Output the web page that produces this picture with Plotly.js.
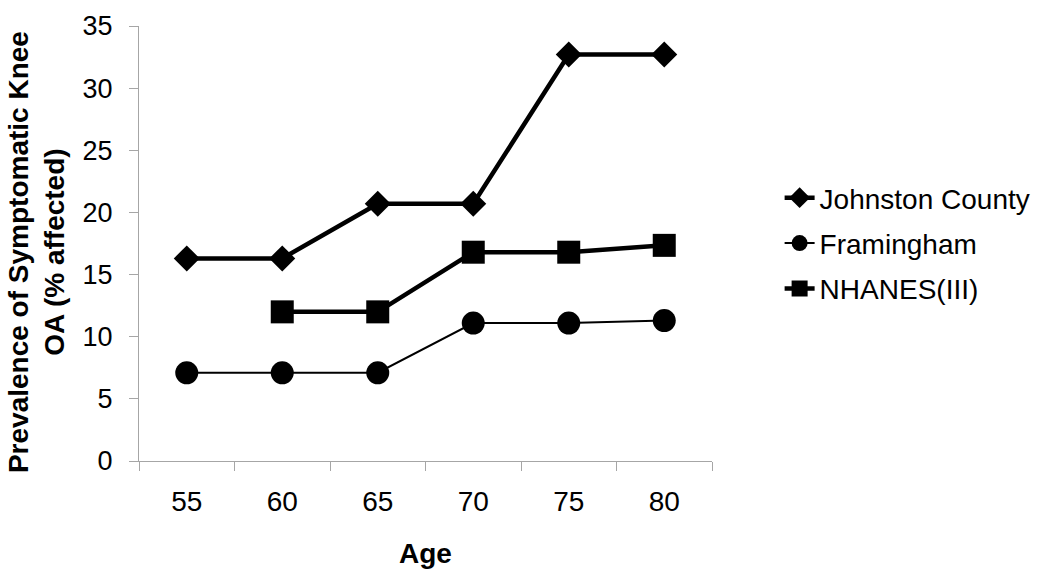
<!DOCTYPE html>
<html>
<head>
<meta charset="utf-8">
<script src="https://cdn.plot.ly/plotly-3.0.1.min.js"></script>
<style>html,body{margin:0;padding:0;background:#fff;}#chart{width:1050px;height:582px;}</style>
</head>
<body>
<div id="chart"></div>
<script>
const ages = ['55', '60', '65', '70', '75', '80'];
const johnstonCounty = [16.3, 16.3, 20.7, 20.7, 32.7, 32.7];
const framingham = [7.1, 7.1, 7.1, 11.1, 11.1, 11.3];
const nhanes = [null, 12.0, 12.0, 16.8, 16.8, 17.35];
const seriesNames = ['Johnston County', 'Framingham', 'NHANES(III)'];
const yTickVals = [0, 5, 10, 15, 20, 25, 30, 35];
const yTitle = '<b>Prevalence of Symptomatic Knee<br>OA (% affected)</b>';
const xTitle = '<b>Age</b>';

const FONT = '"Liberation Sans", Arial, sans-serif';
const AXIS_GRAY = '#a6a6a6';

const traces = [
  {
    x: ages, y: johnstonCounty, name: seriesNames[0], type: 'scatter', mode: 'lines+markers',
    line: {color: '#000', width: 4.5},
    marker: {symbol: 'diamond', size: 20, color: '#000', line: {width: 0}},
    legendgroup: 'a', cliponaxis: false
  },
  {
    x: ages, y: framingham, name: seriesNames[1], type: 'scatter', mode: 'lines+markers',
    line: {color: '#000', width: 2},
    marker: {symbol: 'circle', size: 23, color: '#000', line: {width: 0}},
    legendgroup: 'b', cliponaxis: false
  },
  {
    x: ages, y: nhanes, name: seriesNames[2], type: 'scatter', mode: 'lines+markers',
    line: {color: '#000', width: 4.5},
    marker: {symbol: 'square', size: 23, color: '#000', line: {width: 0}},
    legendgroup: 'c', cliponaxis: false
  }
];

const layout = {
  width: 1050, height: 582,
  margin: {l: 139, r: 338, t: 26, b: 121, pad: 0},
  paper_bgcolor: '#fff', plot_bgcolor: '#fff',
  font: {family: FONT, color: '#000', size: 26},
  showlegend: true,
  legend: {
    x: 1.118, xanchor: 'left', y: 0.5, yanchor: 'middle',
    font: {family: FONT, size: 28, color: '#000'},
    traceorder: 'grouped', tracegroupgap: 6,
    bgcolor: 'rgba(0,0,0,0)', borderwidth: 0
  },
  xaxis: {
    type: 'category', categoryorder: 'array', categoryarray: ages,
    range: [-0.5, 5.5], fixedrange: true,
    showline: true, linecolor: AXIS_GRAY, linewidth: 1,
    showgrid: false, zeroline: false,
    ticks: 'outside', tickson: 'boundaries', ticklen: 9, tickcolor: AXIS_GRAY, tickwidth: 1,
    tickfont: {family: FONT, size: 28, color: '#000'},
    ticklabelstandoff: 15,
    title: {text: xTitle, font: {family: FONT, size: 28, color: '#000'}, standoff: 27}
  },
  yaxis: {
    range: [0, 35], tickvals: yTickVals, fixedrange: true,
    showline: true, linecolor: AXIS_GRAY, linewidth: 1,
    showgrid: false, zeroline: false,
    ticks: 'outside', ticklen: 9, tickcolor: AXIS_GRAY, tickwidth: 1,
    tickfont: {family: FONT, size: 27, color: '#000'},
    ticklabelstandoff: 11
  },
  annotations: [{
    text: yTitle, textangle: -90, showarrow: false,
    xref: 'paper', yref: 'paper', x: -0.18, y: 0.48,
    xanchor: 'center', yanchor: 'middle',
    font: {family: FONT, size: 28, color: '#000'}
  }]
};

Plotly.newPlot('chart', traces, layout, {staticPlot: true, displayModeBar: false});
</script>
</body>
</html>
